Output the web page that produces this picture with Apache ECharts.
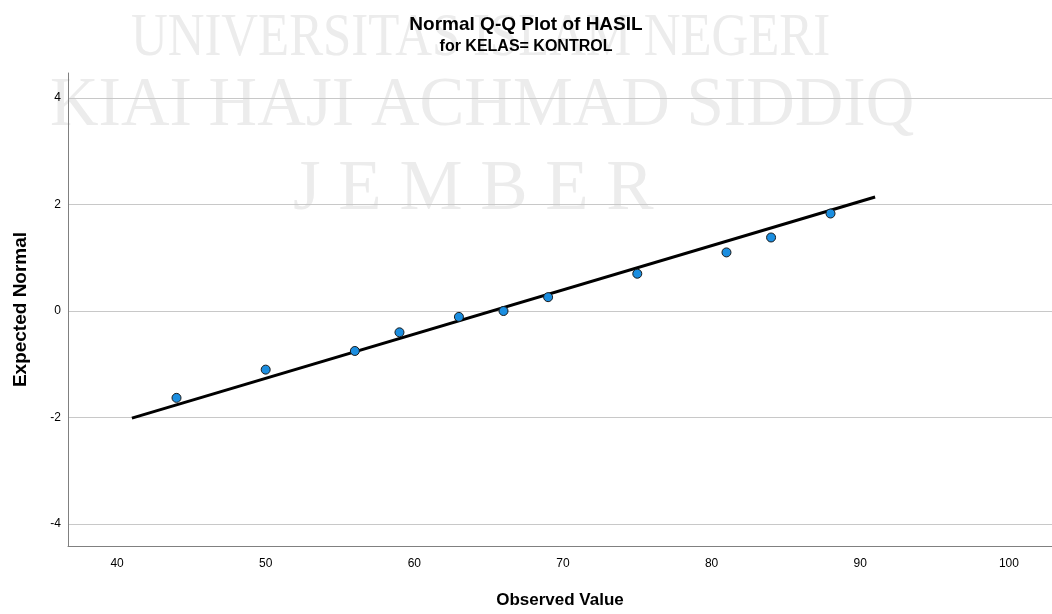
<!DOCTYPE html>
<html>
<head>
<meta charset="utf-8">
<title>Normal Q-Q Plot of HASIL</title>
<script src="https://cdn.jsdelivr.net/npm/echarts/dist/echarts.min.js"></script>
<style>
  html, body { margin: 0; padding: 0; background: #fff; }
  #chart { width: 1052px; height: 614px; }
</style>
</head>
<body>
<div id="chart"></div>
<script>
// observed scores and their expected normal values
const observed = [44, 50, 56, 59, 63, 66, 69, 75, 81, 84, 88];
const expected = [-1.63, -1.10, -0.75, -0.40, -0.11, 0.00, 0.26, 0.70, 1.10, 1.38, 1.83];

// reference line end points
const lineX = [41, 91];
const lineY = [-2.01, 2.14];

// watermark text lines
const watermarkLines = ["UNIVERSITAS ISLAM NEGERI", "KIAI HAJI ACHMAD SIDDIQ", "J E M B E R"];

const fontFamily = "'Liberation Sans', Arial, sans-serif";
const serifFamily = "'Liberation Serif', 'Times New Roman', serif";

const chart = echarts.init(document.getElementById("chart"));

const pointData = observed.map((x, i) => [x, expected[i]]);
const lineData = lineX.map((x, i) => [x, lineY[i]]);

// light grey stamp behind the plot
const watermark = (text, x, y, size, scaleX) => ({
  type: "text",
  x,
  y,
  scaleX,
  z: -10,
  silent: true,
  style: {
    text,
    font: size + "px " + serifFamily,
    fill: "#ececec",
    textAlign: "left",
    textVerticalAlign: "top",
  },
});

chart.setOption({
  animation: false,
  backgroundColor: "#fff",
  textStyle: { fontFamily },
  title: {
    text: "Normal Q-Q Plot of HASIL",
    subtext: "for KELAS= KONTROL",
    left: "center",
    top: 10,
    itemGap: 5,
    textStyle: { fontSize: 19, fontWeight: "bold", color: "#000", fontFamily },
    subtextStyle: { fontSize: 16, fontWeight: "bold", color: "#000", fontFamily },
  },
  graphic: [
    watermark(watermarkLines[0], 131, 8, 62, 0.82),
    watermark(watermarkLines[1], 50, 72, 70, 0.96),
    watermark(watermarkLines[2], 293, 154, 72, 0.985),
  ],
  grid: {
    left: 68,
    right: 0,
    top: 73,
    bottom: 66,
    containLabel: false,
  },
  xAxis: {
    type: "value",
    min: 36.7,
    max: 102.9,
    name: "Observed Value",
    nameLocation: "middle",
    nameGap: 46,
    nameTextStyle: { fontSize: 17, fontWeight: "bold", color: "#000" },
    axisLine: { show: true, onZero: false, lineStyle: { color: "#808080", width: 1 } },
    axisTick: { show: false },
    splitLine: { show: false },
    axisLabel: {
      color: "#000",
      fontSize: 12,
      margin: 12,
      showMinLabel: false,
      showMaxLabel: false,
      formatter: (v) => (v % 10 === 0 ? String(v) : ""),
    },
  },
  yAxis: {
    type: "value",
    min: -4.41,
    max: 4.467,
    name: "Expected Normal",
    nameLocation: "middle",
    nameGap: 38,
    nameTextStyle: { fontSize: 19, fontWeight: "bold", color: "#000" },
    axisLine: { show: true, onZero: false, lineStyle: { color: "#808080", width: 1 } },
    axisTick: { show: false },
    splitLine: {
      show: true,
      showMinLine: false,
      showMaxLine: false,
      lineStyle: { color: "#c8c8c8", width: 1 },
    },
    axisLabel: {
      color: "#000",
      fontSize: 12,
      margin: 7,
      showMinLabel: false,
      showMaxLabel: false,
      formatter: (v) => (v % 2 === 0 ? String(v) : ""),
    },
  },
  series: [
    {
      name: "line",
      type: "line",
      data: lineData,
      symbol: "none",
      lineStyle: { color: "#000", width: 3 },
      z: 2,
    },
    {
      name: "points",
      type: "scatter",
      data: pointData,
      symbolSize: 9,
      itemStyle: { color: "#1b8ee0", borderColor: "#1a1a1a", borderWidth: 1, opacity: 1 },
      z: 3,
    },
  ],
});
</script>
</body>
</html>
